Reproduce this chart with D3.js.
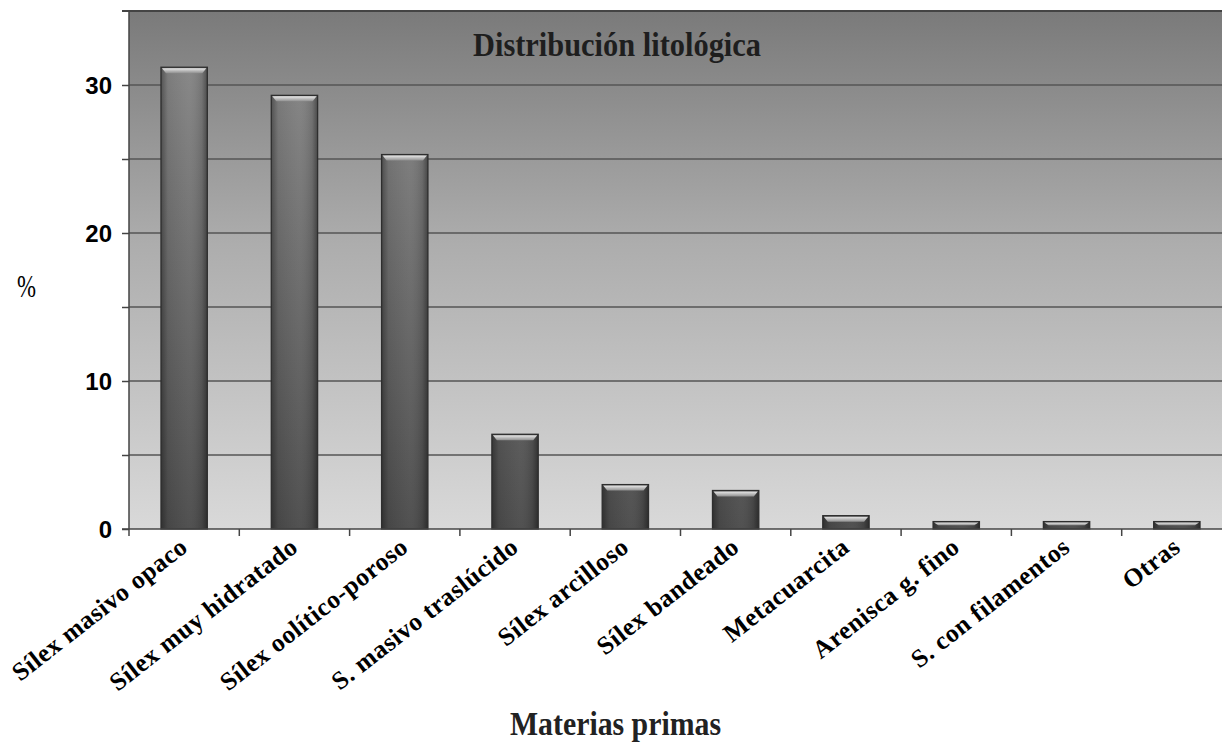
<!DOCTYPE html>
<html><head><meta charset="utf-8">
<script src="https://cdn.jsdelivr.net/npm/d3@7/dist/d3.min.js"></script>
<style>html,body{margin:0;padding:0;background:#fff;}svg{display:block;}</style>
</head><body>
<svg id="chart" width="1222" height="742"></svg>
<script>
const categories = ["Sílex masivo opaco","Sílex muy hidratado","Sílex oolítico-poroso","S. masivo traslúcido","Sílex arcilloso","Sílex bandeado","Metacuarcita","Arenisca g. fino","S. con filamentos","Otras"];
const values = [31.2, 29.3, 25.3, 6.4, 3.0, 2.6, 0.9, 0.5, 0.5, 0.5];
const yTickLabels = [0, 10, 20, 30];
const gridValues = [5, 10, 15, 20, 25, 30];
const title = "Distribución litológica";
const xTitle = "Materias primas";
const yTitle = "%";

const svg = d3.select("#chart");
const pL = 129, pR = 1232, pT = 11, pB = 529;
const x = d3.scaleBand().domain(categories).range([pL, pR]).paddingInner(0.58).paddingOuter(0.29);
const y = d3.scaleLinear().domain([0, 35]).range([pB, pT]);

const defs = svg.append("defs");
const bg = defs.append("linearGradient").attr("id","bg").attr("x1",0).attr("y1",0).attr("x2",0).attr("y2",1);
bg.append("stop").attr("offset",0).attr("stop-color","#7a7a7a");
bg.append("stop").attr("offset",0.45).attr("stop-color","#adadad");
bg.append("stop").attr("offset",1).attr("stop-color","#d9d9d9");

const barV = defs.append("linearGradient").attr("id","barV").attr("gradientUnits","userSpaceOnUse")
  .attr("x1",0).attr("y1",pT).attr("x2",0).attr("y2",pB);
barV.append("stop").attr("offset",0).attr("stop-color","#8a8a8a");
barV.append("stop").attr("offset",1).attr("stop-color","#4a4a4a");

const barH = defs.append("linearGradient").attr("id","barH").attr("x1",0).attr("y1",0).attr("x2",1).attr("y2",0);
barH.append("stop").attr("offset",0).attr("stop-color","#000").attr("stop-opacity",0.35);
barH.append("stop").attr("offset",0.15).attr("stop-color","#000").attr("stop-opacity",0.05);
barH.append("stop").attr("offset",0.6).attr("stop-color","#fff").attr("stop-opacity",0.04);
barH.append("stop").attr("offset",0.88).attr("stop-color","#000").attr("stop-opacity",0.1);
barH.append("stop").attr("offset",1).attr("stop-color","#000").attr("stop-opacity",0.4);

const cap = defs.append("linearGradient").attr("id","cap").attr("x1",0).attr("y1",0).attr("x2",0).attr("y2",1);
cap.append("stop").attr("offset",0).attr("stop-color","#e8e8e8");
cap.append("stop").attr("offset",1).attr("stop-color","#8e8e8e");

// background
svg.append("rect").attr("x",pL).attr("y",pT).attr("width",pR-pL).attr("height",pB-pT).attr("fill","url(#bg)");

// gridlines
svg.append("g").selectAll("line").data(gridValues).join("line")
  .attr("x1",pL).attr("x2",pR).attr("y1",d=>y(d)).attr("y2",d=>y(d))
  .attr("stroke","#555").attr("stroke-width",1.5);

// top border
svg.append("line").attr("x1",122).attr("x2",pR).attr("y1",pT).attr("y2",pT).attr("stroke","#444").attr("stroke-width",2);

// bars
const bars = svg.append("g").selectAll("g").data(categories.map((c,i)=>({c,v:values[i]}))).join("g");
bars.append("rect").attr("x",d=>x(d.c)).attr("y",d=>y(d.v)).attr("width",x.bandwidth()).attr("height",d=>pB-y(d.v))
  .attr("fill","url(#barV)");
bars.append("rect").attr("x",d=>x(d.c)).attr("y",d=>y(d.v)).attr("width",x.bandwidth()).attr("height",d=>pB-y(d.v))
  .attr("fill","url(#barH)").attr("stroke","#2e2e2e").attr("stroke-width",1.3);
bars.append("path").attr("d",d=>{
  const x0=x(d.c), w=x.bandwidth(), t=y(d.v), h=Math.min(6, (pB-t)/2);
  return `M${x0+1},${t+1}L${x0+w-1},${t+1}L${x0+w-5},${t+h}L${x0+5},${t+h}Z`;
}).attr("fill","url(#cap)");

// y axis
const yAxis = d3.axisLeft(y).tickValues(gridValues.concat([0])).tickSize(7).tickFormat(d=>yTickLabels.includes(d)?d:"");
const ya = svg.append("g").attr("transform",`translate(${pL},0)`).call(yAxis);
ya.select(".domain").attr("stroke","#444").attr("stroke-width",1.5).attr("d",`M-7,${pT}H0V${pB}`);
ya.selectAll(".tick line").attr("stroke","#444").attr("stroke-width",1.5);
ya.selectAll(".tick text").attr("x",-17).attr("dy","0.36em").attr("fill","#000")
  .style("font-family","'Liberation Sans', Arial, sans-serif").style("font-weight","bold").style("font-size","24px");

// x axis
const xAxis = d3.axisBottom(x).tickSize(0).tickFormat("");
const xa = svg.append("g").attr("transform",`translate(0,${pB})`).call(xAxis);
xa.select(".domain").attr("stroke","#444").attr("stroke-width",1.5).attr("d",`M122,0H${pR}`);
svg.append("g").selectAll("line").data(d3.range(categories.length+1)).join("line")
  .attr("x1",i=>pL+i*x.step()).attr("x2",i=>pL+i*x.step()).attr("y1",pB).attr("y2",pB+7)
  .attr("stroke","#444").attr("stroke-width",1.5);

svg.append("g").selectAll("text").data(categories).join("text")
  .attr("transform",d=>`translate(${x(d)+x.bandwidth()/2+5},${pB+21}) rotate(-38)`)
  .attr("text-anchor","end")
  .style("font-family","'Liberation Serif', 'Times New Roman', serif").style("font-weight","bold").style("font-size","25.5px")
  .style("letter-spacing","0.5px")
  .attr("fill","#000").text(d=>d);

// titles
svg.append("text").attr("x",617).attr("y",56).attr("text-anchor","middle")
  .attr("textLength",288).attr("lengthAdjust","spacingAndGlyphs")
  .style("font-family","'Liberation Serif', 'Times New Roman', serif").style("font-weight","bold").style("font-size","34px")
  .attr("fill","#1e1e1e").text(title);
svg.append("text").attr("x",615.5).attr("y",735).attr("text-anchor","middle")
  .attr("textLength",211).attr("lengthAdjust","spacingAndGlyphs")
  .style("font-family","'Liberation Serif', 'Times New Roman', serif").style("font-weight","bold").style("font-size","34px")
  .attr("fill","#222").text(xTitle);
svg.append("text").attr("x",26.5).attr("y",297).attr("text-anchor","middle")
  .attr("textLength",19).attr("lengthAdjust","spacingAndGlyphs")
  .style("font-family","'Liberation Serif', 'Times New Roman', serif").style("font-size","32px")
  .attr("fill","#000").text(yTitle);
</script>
</body></html>
